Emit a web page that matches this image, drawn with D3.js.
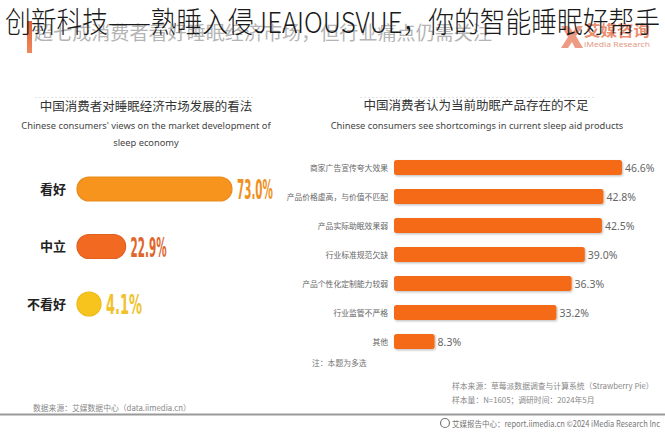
<!DOCTYPE html>
<html>
<head>
<meta charset="utf-8">
<script src="https://cdn.jsdelivr.net/npm/d3@7"></script>
<style>
  html, body { margin: 0; padding: 0; background: #fff; }
  svg { display: block; }
</style>
</head>
<body>
<svg id="chart" width="665" height="432"></svg>
<script>
// ---------- data ----------
const pageTitle = "创新科技——熟睡入侵JEAIOUSVUE，你的智能睡眠好帮手";
const subTitle = "超七成消费者看好睡眠经济市场，但行业痛点仍需关注";

const leftTitle = "中国消费者对睡眠经济市场发展的看法";
const leftTitleEn = ["Chinese consumers' views on the market development of", "sleep economy"];
const leftCategories = ["看好", "中立", "不看好"];
const leftValues = [73.0, 22.9, 4.1];

const rightTitle = "中国消费者认为当前助眠产品存在的不足";
const rightTitleEn = "Chinese consumers see shortcomings in current sleep aid products";
const rightCategories = ["商家广告宣传夸大效果", "产品价格虚高，与价值不匹配", "产品实际助眠效果弱", "行业标准规范欠缺", "产品个性化定制能力较弱", "行业监管不严格", "其他"];
const rightValues = [46.6, 42.8, 42.5, 39.0, 36.3, 33.2, 8.3];

const noteText = "注：本题为多选";
const sourceLeft = "数据来源：艾媒数据中心（data.iimedia.cn）";
const sourceRight = ["样本来源：草莓派数据调查与计算系统（Strawberry Pie）", "样本量：N=1605；调研时间：2024年5月"];
const footerText = "艾媒报告中心：report.iimedia.cn      ©2024  iMedia Research Inc";

// ---------- drawing ----------
const svg = d3.select("#chart");
const CJK = "'Noto Sans CJK SC', 'Noto Sans', sans-serif";
const LAT = "'Noto Sans', 'Noto Sans CJK SC', sans-serif";

const defs = svg.append("defs");
const sh = defs.append("filter").attr("id", "shadow").attr("x", "-5%").attr("y", "-20%").attr("width", "110%").attr("height", "160%");
sh.append("feDropShadow").attr("dx", 1).attr("dy", 1.2).attr("stdDeviation", 0.8).attr("flood-color", "#000").attr("flood-opacity", 0.25);

const accentGrad = defs.append("linearGradient").attr("id", "accent").attr("x1", 0).attr("y1", 0).attr("x2", 0).attr("y2", 1);
accentGrad.append("stop").attr("offset", "0%").attr("stop-color", "#e6603a");
accentGrad.append("stop").attr("offset", "100%").attr("stop-color", "#ee8a5c");

// header accent bar
svg.append("rect").attr("x", 27).attr("y", 21).attr("width", 5).attr("height", 32).attr("fill", "url(#accent)");

// gray subtitle (under the big title)
svg.append("text").attr("x", 34).attr("y", 40)
  .attr("font-family", CJK).attr("font-size", 19).attr("fill", "#b4b4b4")
  .attr("textLength", 458).attr("lengthAdjust", "spacingAndGlyphs")
  .text(subTitle);

// logo
const logo = svg.append("g").attr("transform", "translate(561,24)");
logo.append("path").attr("d", "M0,2 L8,2 L12,8 L16,2 L22,2 L15,12 L22,24 L14,24 L11,18 L7,24 L0,24 L7,13 Z")
  .attr("fill", "#e8795a").attr("opacity", 0.75);
logo.append("text").attr("x", 23).attr("y", 12).attr("font-family", CJK).attr("font-size", 15).attr("font-weight", "bold")
  .attr("fill", "#ec8d70").attr("textLength", 66).attr("lengthAdjust", "spacingAndGlyphs").text("艾媒咨询");
logo.append("text").attr("x", 23).attr("y", 23).attr("font-family", LAT).attr("font-size", 7.5)
  .attr("fill", "#e39a84").attr("textLength", 66).attr("lengthAdjust", "spacingAndGlyphs").text("iMedia Research");

// big overlay title
svg.append("text").attr("x", 5).attr("y", 33)
  .attr("font-family", CJK).attr("font-size", 29).attr("font-weight", 300).attr("fill", "#1a1a1a")
  .attr("textLength", 655).attr("lengthAdjust", "spacingAndGlyphs")
  .text(pageTitle);

// faint dashed separators
[[35, 255], [360, 595]].forEach(([a, b]) => {
  svg.append("line").attr("x1", a).attr("x2", b).attr("y1", 97.5).attr("y2", 97.5)
    .attr("stroke", "#e2e2e2").attr("stroke-width", 1).attr("stroke-dasharray", "2,2");
});

// ---------- left chart ----------
svg.append("text").attr("x", 146).attr("y", 111).attr("text-anchor", "middle")
  .attr("font-family", CJK).attr("font-size", 12.5).attr("fill", "#333").text(leftTitle);
leftTitleEn.forEach((t, i) => {
  svg.append("text").attr("x", 146).attr("y", 129 + i * 17).attr("text-anchor", "middle")
    .attr("font-family", LAT).attr("font-size", 9.3).attr("fill", "#444").text(t);
});

const lx = d3.scaleLinear().domain([0, 100]).range([0, 212.3]);
const ly = d3.scalePoint().domain(leftCategories).range([189, 304]);
const leftBarX = 77, leftBarH = 24;
const leftFill = ["#f7941d", "#f26a21", "#f7c41d"];
const leftStroke = ["#e88a1a", "#e06020", "#eeb915"];
const leftTextColor = ["#ef9020", "#e0652a", "#f0c12a"];

const lg = svg.append("g");
leftCategories.forEach((c, i) => {
  const w = Math.max(leftBarH, lx(leftValues[i]));
  const y = ly(c);
  lg.append("text").attr("x", 66).attr("y", y + 4.5).attr("text-anchor", "end")
    .attr("font-family", CJK).attr("font-size", 13).attr("font-weight", "bold").attr("fill", "#222").text(c);
  lg.append("rect").attr("x", leftBarX).attr("y", y - leftBarH / 2).attr("width", w).attr("height", leftBarH)
    .attr("rx", leftBarH / 2).attr("ry", leftBarH / 2)
    .attr("fill", leftFill[i]).attr("stroke", leftStroke[i]).attr("stroke-width", 1.2);
  const label = d3.format(".1f")(leftValues[i]) + "%";
  lg.append("text").attr("x", leftBarX + w + 5).attr("y", y + 10)
    .attr("font-family", "'Liberation Sans Narrow', 'DejaVu Sans Condensed', sans-serif")
    .attr("font-stretch", "condensed").attr("font-weight", "bold").attr("font-size", 27)
    .attr("fill", leftTextColor[i])
    .attr("textLength", 36).attr("lengthAdjust", "spacingAndGlyphs")
    .text(label);
});

// ---------- right chart ----------
svg.append("text").attr("x", 476).attr("y", 110).attr("text-anchor", "middle")
  .attr("font-family", CJK).attr("font-size", 12.5).attr("fill", "#333").text(rightTitle);
svg.append("text").attr("x", 477).attr("y", 129).attr("text-anchor", "middle")
  .attr("font-family", LAT).attr("font-size", 9.3).attr("fill", "#444").text(rightTitleEn);

const rx0 = 394;
const rxs = d3.scaleLinear().domain([0, 46.6]).range([rx0, 622]);
const rys = d3.scalePoint().domain(rightCategories).range([167.5, 341.5]);
const rBarH = 15;

const rg = svg.append("g");
rightCategories.forEach((c, i) => {
  const y = rys(c);
  rg.append("text").attr("x", 388).attr("y", y + 3).attr("text-anchor", "end")
    .attr("font-family", CJK).attr("font-size", 7.8).attr("fill", "#666").text(c);
  rg.append("rect").attr("x", rx0).attr("y", y - rBarH / 2)
    .attr("width", rxs(rightValues[i]) - rx0).attr("height", rBarH)
    .attr("rx", 2.5).attr("fill", "#f56b16").attr("filter", "url(#shadow)");
  rg.append("text").attr("x", rxs(rightValues[i]) + 3).attr("y", y + 4)
    .attr("font-family", LAT).attr("font-size", 10.5).attr("fill", "#666")
    .text(d3.format(".1f")(rightValues[i]) + "%");
});

svg.append("text").attr("x", 312).attr("y", 366)
  .attr("font-family", CJK).attr("font-size", 7.8).attr("fill", "#777").text(noteText);

// ---------- footer ----------
svg.append("text").attr("x", 33).attr("y", 411)
  .attr("font-family", CJK).attr("font-size", 7.8).attr("fill", "#888").text(sourceLeft);
sourceRight.forEach((t, i) => {
  svg.append("text").attr("x", 452).attr("y", 389 + i * 14)
    .attr("font-family", CJK).attr("font-size", 7.8).attr("fill", "#888").text(t);
});
svg.append("line").attr("x1", 0).attr("x2", 665).attr("y1", 414.5).attr("y2", 414.5)
  .attr("stroke", "#9a9a9a").attr("stroke-width", 2);
svg.append("circle").attr("cx", 445).attr("cy", 423).attr("r", 4.5)
  .attr("fill", "none").attr("stroke", "#777").attr("stroke-width", 1.2);
svg.append("text").attr("x", 452).attr("y", 426.5)
  .attr("font-family", CJK).attr("font-size", 8.5).attr("fill", "#777")
  .attr("textLength", 208).attr("lengthAdjust", "spacingAndGlyphs")
  .text(footerText);
</script>
</body>
</html>
